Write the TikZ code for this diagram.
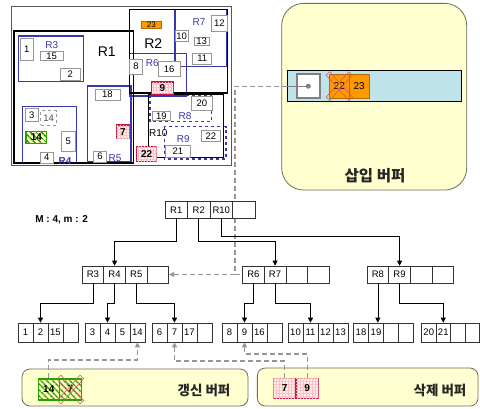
\documentclass[tikz,border=0pt]{standalone}
\usepackage{fontspec}
\setmainfont{Liberation Sans}
\newfontfamily\kr{Noto Sans CJK KR}
\usetikzlibrary{arrows.meta,patterns.meta,calc}
\definecolor{rblue}{RGB}{55,55,170}
\definecolor{objgray}{RGB}{150,150,150}
\definecolor{redb}{RGB}{200,20,70}
\definecolor{grn}{RGB}{40,160,0}
\definecolor{orng}{RGB}{255,153,0}
\definecolor{bufy}{RGB}{255,255,208}
\definecolor{bufb}{RGB}{110,110,90}
\definecolor{barb}{RGB}{190,227,235}
\definecolor{dgray}{RGB}{150,150,150}
\definecolor{xred}{RGB}{215,90,110}
\newcommand\mkobj[7]{%
  \pgfmathsetmacro\mkw{#5-#3}\pgfmathsetmacro\mkh{#6-#4}%
  \node[#1, minimum width=\mkw pt, minimum height=\mkh pt] (#2) at ({(#3+#5)/2},{(#4+#6)/2}) {#7};}
\newcommand\xmark[1]{%
  \draw[xred, line width=0.6, rotate around={48:(#1)}] ($(#1)+(-17,-2.5)$) rectangle ($(#1)+(17,2.5)$);
  \draw[xred, line width=0.6, rotate around={-48:(#1)}] ($(#1)+(-17,-2.5)$) rectangle ($(#1)+(17,2.5)$);}
\begin{document}
\begin{tikzpicture}[x=1pt,y=-1pt,
  rc/.style={draw=black!80, fill=white, line width=0.7, inner sep=0, minimum width=21.7pt, minimum height=17pt, font=\fontsize{9.5}{10}\selectfont},
  lc/.style={draw=black!80, fill=white, line width=0.7, inner sep=0, minimum width=15pt, minimum height=19pt, font=\fontsize{9.5}{10}\selectfont},
  tarr/.style={draw=black, line width=0.7, -{Triangle[length=5pt,width=5pt]}},
  gdash/.style={draw=dgray, line width=1.1, dash pattern=on 5pt off 3pt, -{Triangle[length=5pt,width=5pt]}},
  obj/.style={draw=objgray, fill=white, line width=0.8, inner sep=0, font=\fontsize{9.5}{10}\selectfont},
  redobj/.style={draw=redb, line width=1.3, inner sep=0, fill=red!6, postaction={pattern={Hatch[distance=3pt,angle=0,line width=0.3pt]}, pattern color=red!25}, font=\bfseries\fontsize{10}{10}\selectfont},
  grnobj/.style={draw=grn, line width=1.3, inner sep=0, fill=yellow!25, postaction={pattern={Lines[angle=-45,distance=4pt,line width=1.6pt]}, pattern color=grn}, font=\bfseries\fontsize{10}{10}\selectfont},
  orobj/.style={draw=orng!70!black, line width=0.6, inner sep=0, fill=orng, font=\fontsize{10}{10}\selectfont},
  br/.style={draw=rblue, line width=1.2},
  bk/.style={draw=black, line width=1.6},
  blab/.style={text=rblue, font=\fontsize{10}{10}\selectfont, inner sep=0},
  klab/.style={font=\kr\bfseries\fontsize{13.5}{14}\selectfont, text=black!85, inner sep=0},
  buf/.style={draw=bufb, fill=bufy, line width=0.8}]
\useasboundingbox (0,0) rectangle (480,408);
\fill[white] (0,0) rectangle (480,408);

% ---------- insert buffer ----------
\node[buf, rounded corners=22pt, minimum width=185pt, minimum height=186.7pt, inner sep=0] (ibuf) at (374.2,96.7) {};
\node[klab, font=\kr\bfseries\fontsize{15.5}{16}\selectfont] (iblab) at (375,176) {삽입 버퍼};
\node[draw=black, fill=barb, line width=0.7, minimum width=174.4pt, minimum height=31.7pt, inner sep=0] (bar) at (374.5,85.9) {};
\node[draw=gray, fill=white, line width=1.5, minimum width=23pt, minimum height=24pt, inner sep=0] (sq) at (308.3,86.2) {};
\mkobj{orobj}{i22}{329.3}{74}{349.3}{98.3}{22}
\mkobj{orobj}{i23}{349.3}{74}{369}{98.3}{23}
\xmark{i22.center}

% ---------- update / delete buffers ----------
\node[buf, rounded corners=8pt, minimum width=226pt, minimum height=37pt, inner sep=0] (ubuf) at (135,387.5) {};
\node[klab] (ublab) at (204,390) {갱신 버퍼};
\mkobj{grnobj}{u14}{38.3}{379}{59.3}{400}{14}
\mkobj{grnobj}{u7}{59.3}{379}{81.7}{400}{7}
\xmark{u7.center}
\node[buf, rounded corners=8pt, minimum width=220.7pt, minimum height=38pt, inner sep=0] (dbuf) at (367.7,387) {};
\node[klab] (dblab) at (440,390) {삭제 버퍼};
\mkobj{redobj}{d7}{273.3}{378.3}{296}{398.3}{7}
\mkobj{redobj}{d9}{296}{378.3}{318.3}{398.3}{9}

\node[font=\bfseries\fontsize{10}{10}\selectfont] (mm) at (61.7,220) {M : 4, m : 2};

% ---------- link from insert buffer ----------
\draw[draw=gray, line width=1] (bar.west |- sq.center) -- (sq.center);
\fill[gray] (sq.center) circle (2.5);

% ---------- top-left panel ----------
\draw[black!65, line width=0.7] (11.5,6.5) rectangle (231,165.5);
\draw[br] (18.3,36) rectangle (83.3,81.7);
\draw[br] (22.7,106.7) rectangle (76.7,163.5);
\draw[br] (87.3,86) rectangle (131,161.7);
\draw[br] (129.3,53.3) rectangle (186.7,96);
\draw[br] (175,9.3) rectangle (226.7,66.7);
\draw[br, dashed] (150,95) rectangle (211.7,121.7);
\draw[br, dashed] (164.3,126.7) rectangle (226,159);
\draw[bk] (14,31) rectangle (133.3,163);
\draw[bk] (129.3,9.3) rectangle (227.3,93);
\draw[bk] (148.3,94.5) rectangle (223.3,157.3);

\node[font=\fontsize{14}{14}\selectfont] (lR1) at (106.7,51.7) {R1};
\node[font=\fontsize{14}{14}\selectfont] (lR2) at (153.3,43.3) {R2};
\node[blab] (lR3) at (51.7,45) {R3};
\node[blab, font=\bfseries\fontsize{10}{10}\selectfont] (lR4) at (65,161) {R4};
\node[blab] (lR5) at (115,158.5) {R5};
\node[blab] (lR6) at (152.3,63.3) {R6};
\node[blab] (lR7) at (199,21.7) {R7};
\node[blab] (lR8) at (185,116) {R8};
\node[blab] (lR9) at (183.3,139.3) {R9};
\node[inner sep=0, font=\fontsize{10}{10}\selectfont] (lR10) at (158.3,133.3) {R10};

\mkobj{obj}{o1}{20}{38.3}{33.3}{60}{1}
\mkobj{obj}{o15}{40}{51.7}{63.3}{60}{15}
\mkobj{obj}{o2}{60}{68.3}{80.7}{80}{2}
\mkobj{obj}{o18}{95}{89.3}{120}{100}{18}
\mkobj{obj}{o3}{25}{108.3}{38.3}{121.7}{3}
\mkobj{obj, dashed}{o14d}{40.7}{110.7}{56.7}{125}{\textcolor{black!70}{14}}
\mkobj{grnobj}{o14}{26}{131.7}{46.7}{143.3}{14}
\mkobj{obj}{o5}{61.7}{131.7}{75}{151.7}{5}
\mkobj{obj}{o4}{40}{152}{53.3}{163}{4}
\mkobj{obj}{o6}{93.3}{151}{106.7}{162}{6}
\mkobj{redobj}{o7}{116.7}{125}{129.3}{138.3}{7}
\mkobj{orobj}{o23}{141}{21.5}{161.7}{28.5}{\fontsize{8}{8}\selectfont 23}
\mkobj{obj}{o12}{211.7}{15}{227.3}{31.7}{12}
\mkobj{obj}{o10}{175}{30}{188.3}{41.7}{10}
\mkobj{obj}{o13}{194}{37.3}{209.3}{45.7}{13}
\mkobj{obj}{o11}{192.7}{53.3}{211.7}{64}{11}
\mkobj{obj}{o8}{129.3}{59.3}{142.7}{74}{8}
\mkobj{obj}{o16}{158.3}{61.7}{180}{76.7}{16}
\mkobj{redobj}{o9}{151.7}{82}{173.3}{94}{9}
\mkobj{obj}{o20}{191}{96.7}{212.7}{110}{20}
\mkobj{obj}{o19}{152.7}{111.7}{170}{120.7}{19}
\mkobj{obj}{o22w}{201.7}{130}{220}{141.7}{22}
\mkobj{obj}{o21}{165}{145}{190.7}{157.3}{21}
\mkobj{redobj}{o22}{136.7}{146.7}{156.7}{161.7}{22}

% ---------- tree ----------
\draw[gdash] (bar.west |- sq.center) -- (235,86.2) |- (265,274.5);
\foreach \t [count=\i] in {R1,R2,R10,{}} {\node[rc, minimum width=22.5pt] (root\i) at ({165+22.5*(\i-0.5)},210) {\t};}
\foreach \t [count=\i] in {R3,R4,R5,{}} {\node[rc] (ma\i) at ({82+21.7*(\i-0.5)},274.5) {\t};}
\foreach \t [count=\i] in {R6,R7,{},{}} {\node[rc] (mb\i) at ({242.5+21.7*(\i-0.5)},274.5) {\t};}
\foreach \t [count=\i] in {R8,R9,{},{}} {\node[rc] (mc\i) at ({367+21.7*(\i-0.5)},274.5) {\t};}
\draw[gdash] (235,274.5) -- (ma4.east);

\foreach \t [count=\i] in {1,2,15,{}} {\node[lc] (la\i) at ({18+15*(\i-0.5)},332.5) {\t};}
\foreach \t [count=\i] in {3,4,5,14} {\node[lc] (lb\i) at ({85+15*(\i-0.5)},332.5) {\t};}
\foreach \t [count=\i] in {6,7,17,{}} {\node[lc] (lc\i) at ({152+15*(\i-0.5)},332.5) {\t};}
\foreach \t [count=\i] in {8,9,16,{}} {\node[lc] (ld\i) at ({222+15*(\i-0.5)},332.5) {\t};}
\foreach \t [count=\i] in {10,11,12,13} {\node[lc] (le\i) at ({288+15*(\i-0.5)},332.5) {\t};}
\foreach \t [count=\i] in {18,19,{},{}} {\node[lc] (lf\i) at ({353.5+15*(\i-0.5)},332.5) {\t};}
\foreach \t [count=\i] in {20,21,{},{}} {\node[lc, minimum width=14.5pt] (lg\i) at ({421.5+14.5*(\i-0.5)},332.5) {\t};}

\draw[tarr] (root1.south) -- (root1.south |- 0,241) -| (ma2.north);
\draw[tarr] (root2.south) -- (root2.south |- 0,241) -| (mb2.north);
\draw[tarr] (root3.south) -- (root3.south |- 0,236) -| (mc2.north);

\draw[tarr] (ma1.south) -- (ma1.south |- 0,303) -| (la2.north);
\draw[tarr] (ma2.south) -- (ma2.south |- 0,303) -| (lb2.north);
\draw[tarr] (ma3.south) -- (ma3.south |- 0,303) -| (lc2.north);
\draw[tarr] (mb1.south) -- (mb1.south |- 0,303) -| (ld2.north);
\draw[tarr] (mb2.south) -- (mb2.south |- 0,303) -| (le2.north);
\draw[tarr] (mc1.south) -- (mc1.south |- lf2.north);
\draw[tarr] (mc2.south) -- (mc2.south |- 0,303) -| (lg2.north);

\draw[gdash] (u14.north) -- (u14.north |- 0,360) -| (lb4.south);
\draw[gdash] (d7.north) -- (d7.north |- 0,361) -| (lc2.south);
\draw[gdash] (d9.north) -- (d9.north |- 0,354) -| (ld2.south);
\end{tikzpicture}
\end{document}
